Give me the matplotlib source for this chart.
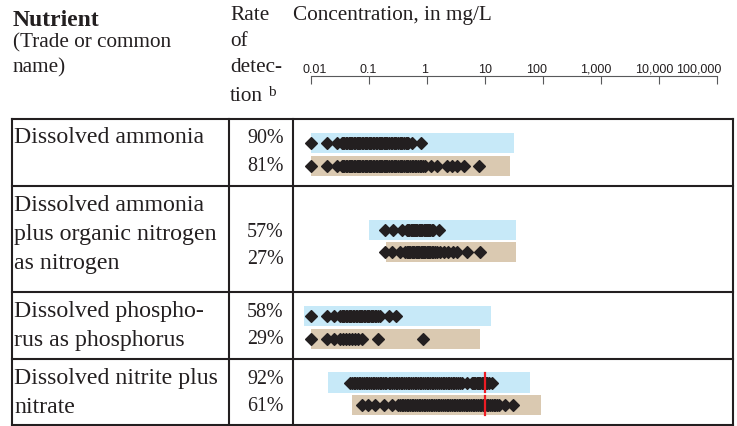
import numpy as np
import matplotlib
matplotlib.use("Agg")
import matplotlib.pyplot as plt
from matplotlib.ticker import NullLocator

# table rows
nutrients = [
    ["Dissolved ammonia"],
    ["Dissolved ammonia", "plus organic nitrogen", "as nitrogen"],
    ["Dissolved phospho-", "rus as phosphorus"],
    ["Dissolved nitrite plus", "nitrate"],
]
detect_upper = ["90%", "57%", "58%", "92%"]
detect_lower = ["81%", "27%", "29%", "61%"]

# shaded bar range, mg/L (low, high)
range_upper = [(0.01, 32), (0.1, 35), (0.0077, 12.7), (0.02, 60)]
range_lower = [(0.01, 27), (0.2, 34), (0.01, 8.1), (0.051, 92)]

# detected concentrations, mg/L
amm_upper = [0.01, 0.019, 0.028, 0.034, 0.036, 0.038, 0.04, 0.042, 0.045,
             0.047, 0.05, 0.052, 0.055, 0.058, 0.062, 0.065, 0.069, 0.072,
             0.076, 0.08, 0.085, 0.09, 0.095, 0.1, 0.105, 0.11, 0.118, 0.125,
             0.132, 0.14, 0.148, 0.155, 0.163, 0.17, 0.18, 0.19, 0.2, 0.21,
             0.225, 0.24, 0.255, 0.27, 0.285, 0.3, 0.32, 0.34, 0.36, 0.38,
             0.4, 0.43, 0.45, 0.48, 0.55, 0.79]
amm_lower = [0.01, 0.019, 0.028, 0.034, 0.036, 0.038, 0.04, 0.042, 0.045,
             0.047, 0.05, 0.052, 0.055, 0.058, 0.062, 0.065, 0.069, 0.072,
             0.076, 0.08, 0.085, 0.09, 0.095, 0.1, 0.105, 0.11, 0.118, 0.125,
             0.132, 0.14, 0.148, 0.155, 0.163, 0.17, 0.18, 0.19, 0.2, 0.21,
             0.225, 0.24, 0.255, 0.27, 0.285, 0.3, 0.32, 0.34, 0.36, 0.38,
             0.4, 0.43, 0.45, 0.48, 0.52, 0.55, 0.58, 0.62, 0.66, 0.7, 0.75,
             0.8, 0.86, 0.93, 1.2, 1.5, 2.2, 2.7, 3.3, 4.3, 7.8]
org_upper = [0.19, 0.265, 0.37, 0.45, 0.48, 0.5, 0.53, 0.55, 0.58, 0.6,
             0.63, 0.66, 0.69, 0.72, 0.76, 0.8, 0.84, 0.88, 0.92, 0.96, 1.0,
             1.05, 1.1, 1.15, 1.22, 1.3, 1.6]
org_lower = [0.19, 0.25, 0.34, 0.42, 0.45, 0.47, 0.5, 0.52, 0.55, 0.58,
             0.61, 0.64, 0.67, 0.7, 0.74, 0.78, 0.82, 0.86, 0.9, 0.95, 1.0,
             1.05, 1.1, 1.15, 1.22, 1.3, 1.4, 1.5, 1.7, 1.95, 2.35, 2.8, 3.3,
             4.9, 8.3]
phos_upper = [0.01, 0.019, 0.025, 0.032, 0.034, 0.036, 0.038, 0.04, 0.043,
              0.045, 0.048, 0.05, 0.053, 0.056, 0.06, 0.063, 0.067, 0.07,
              0.074, 0.078, 0.083, 0.087, 0.092, 0.097, 0.102, 0.108, 0.114,
              0.12, 0.128, 0.135, 0.145, 0.157, 0.22, 0.3]
phos_lower = [0.01, 0.019, 0.025, 0.032, 0.036, 0.041, 0.046, 0.052, 0.058,
              0.066, 0.076, 0.147, 0.85]
nit_upper = [0.048, 0.051, 0.055, 0.059, 0.063, 0.067, 0.072, 0.077, 0.083,
             0.089, 0.095, 0.1, 0.11, 0.118, 0.125, 0.135, 0.145, 0.155,
             0.165, 0.178, 0.19, 0.2, 0.22, 0.235, 0.25, 0.27, 0.29, 0.31,
             0.33, 0.355, 0.38, 0.41, 0.44, 0.47, 0.5, 0.54, 0.58, 0.62, 0.66,
             0.71, 0.76, 0.81, 0.87, 0.93, 1.0, 1.07, 1.15, 1.22, 1.3, 1.4,
             1.5, 1.62, 1.75, 1.87, 2.0, 2.15, 2.3, 2.45, 2.6, 2.8, 3.0, 3.25,
             3.5, 3.75, 4.0, 4.9, 6.0, 6.3, 6.6, 6.9, 7.3, 7.6, 8.0, 8.4, 8.8,
             9.2, 9.7, 10.1, 10.6, 11.1, 11.6, 13.2]
nit_lower = [0.076, 0.098, 0.13, 0.18, 0.25, 0.32, 0.345, 0.37, 0.395, 0.42,
             0.45, 0.48, 0.51, 0.55, 0.59, 0.63, 0.67, 0.72, 0.77, 0.83, 0.89,
             0.95, 1.02, 1.1, 1.17, 1.25, 1.35, 1.45, 1.55, 1.65, 1.77, 1.9,
             2.05, 2.2, 2.35, 2.5, 2.7, 2.9, 3.1, 3.3, 3.55, 3.8, 4.1, 4.4,
             4.7, 5.0, 5.4, 5.8, 6.2, 6.6, 7.1, 7.6, 8.1, 8.7, 9.3, 10.0, 10.7,
             11.5, 12.3, 13.2, 14.2, 15.2, 16.3, 17.5, 22, 31]
conc_upper = [amm_upper, org_upper, phos_upper, nit_upper]
conc_lower = [amm_lower, org_lower, phos_lower, nit_lower]

nitrate_mcl = 10  # red line on nitrite plus nitrate row

tick_values = [0.01, 0.1, 1, 10, 100, 1000, 10000, 100000]
tick_labels = ["0.01", "0.1", "1", "10", "100", "1,000", "10,000", "100,000"]

# ---- layout (pixels) ----
W, H = 737, 427
row_edges = [119.5, 187.3, 292.7, 360.0, 425.7]
col_edges = [12.5, 228.7, 292.7, 732.7]
x0, x1 = 310.7, 717.0
y_axis = 77.3
tick_dx = [4, -1, -2, 0, -6, -5, -5, -18]

ink = "#231f20"
blue = "#c7e9f8"
tan = "#dac9b1"
red = "#ed1c24"
serif = "Liberation Serif"

fig = plt.figure(figsize=(W / 100, H / 100), dpi=100)
bg = fig.add_axes([0, 0, 1, 1])
bg.set_xlim(0, W)
bg.set_ylim(H, 0)
bg.axis("off")

ax = fig.add_axes([x0 / W, 0, (x1 - x0) / W, (H - y_axis) / H])
ax.set_xscale("log")
ax.set_xlim(0.01, 1e5)
ax.set_ylim(H, y_axis)
ax.patch.set_visible(False)
for s in ["left", "right", "bottom"]:
    ax.spines[s].set_visible(False)
ax.spines["top"].set_color("#58595b")
ax.spines["top"].set_linewidth(0.8)
ax.xaxis.set_ticks_position("top")
ax.set_xticks(tick_values)
ax.xaxis.set_minor_locator(NullLocator())
ax.tick_params(axis="x", which="major", direction="in", length=5.8, width=0.8,
               color="#58595b", labeltop=False, labelbottom=False)
ax.set_yticks([])

for v, lab, dx in zip(tick_values, tick_labels, tick_dx):
    ax.annotate(lab, xy=(v, 1), xycoords=("data", "axes fraction"),
                xytext=(dx * 0.72, 3.3), textcoords="offset points",
                ha="center", va="baseline", size=9, color=ink,
                family=["Liberation Sans Narrow", "Liberation Sans"])

# table grid
bg.hlines(row_edges, col_edges[0], col_edges[-1], color=ink, lw=1.5,
          capstyle="projecting")
bg.vlines(col_edges, row_edges[0], row_edges[-1], color=ink, lw=1.5,
          capstyle="projecting")

# header
bg.text(13, 25.5, "Nutrient", family=serif, weight="bold", size=17,
        color=ink, va="baseline")
bg.text(13, 47, "(Trade or common", family=serif, size=15.3, color=ink,
        va="baseline")
bg.text(13, 72.5, "name)", family=serif, size=15.3, color=ink, va="baseline")
for yb, t in zip([20, 46.5, 72.5, 101], ["Rate", "of", "detec-", "tion"]):
    bg.text(230, yb, t, family=serif, size=15.3, color=ink, va="baseline")
bg.text(268, 96, "b", family=serif, size=11, color=ink, va="baseline")
bg.text(293, 20, "Concentration, in mg/L", family=serif, size=15.3,
        color=ink, va="baseline")

for i, lines in enumerate(nutrients):
    top, bot = row_edges[i], row_edges[i + 1]
    for j, line in enumerate(lines):
        bg.text(14, top + 24 + 29 * j, line, family=serif, size=17.2,
                color=ink, va="baseline")
    base = top + (49.5 if len(lines) >= 3 else 24)
    bg.text(283.5, base, detect_upper[i], family=serif, size=14.4, color=ink,
            ha="right", va="baseline")
    bg.text(283.5, base + 27.5, detect_lower[i], family=serif, size=14.4,
            color=ink, ha="right", va="baseline")

    pc = (top + bot) / 2 + 2
    for yc, rng, vals, col in [(pc - 11.3, range_upper[i], conc_upper[i], blue),
                               (pc + 11.3, range_lower[i], conc_lower[i], tan)]:
        lo, hi = rng
        ax.barh([yc], [hi - lo], left=lo, height=20.3, color=col, zorder=1,
                clip_on=False)
        ax.plot(vals, np.full(len(vals), yc), ls="none", marker="D", ms=6.2,
                mfc=ink, mec=ink, mew=0.9, clip_on=False, zorder=2)
        if i == 3:
            ax.plot([nitrate_mcl, nitrate_mcl], [yc - 9.5, yc + 9.5],
                    color=red, lw=1.6, zorder=3)

fig.savefig("out.png", dpi=100)
